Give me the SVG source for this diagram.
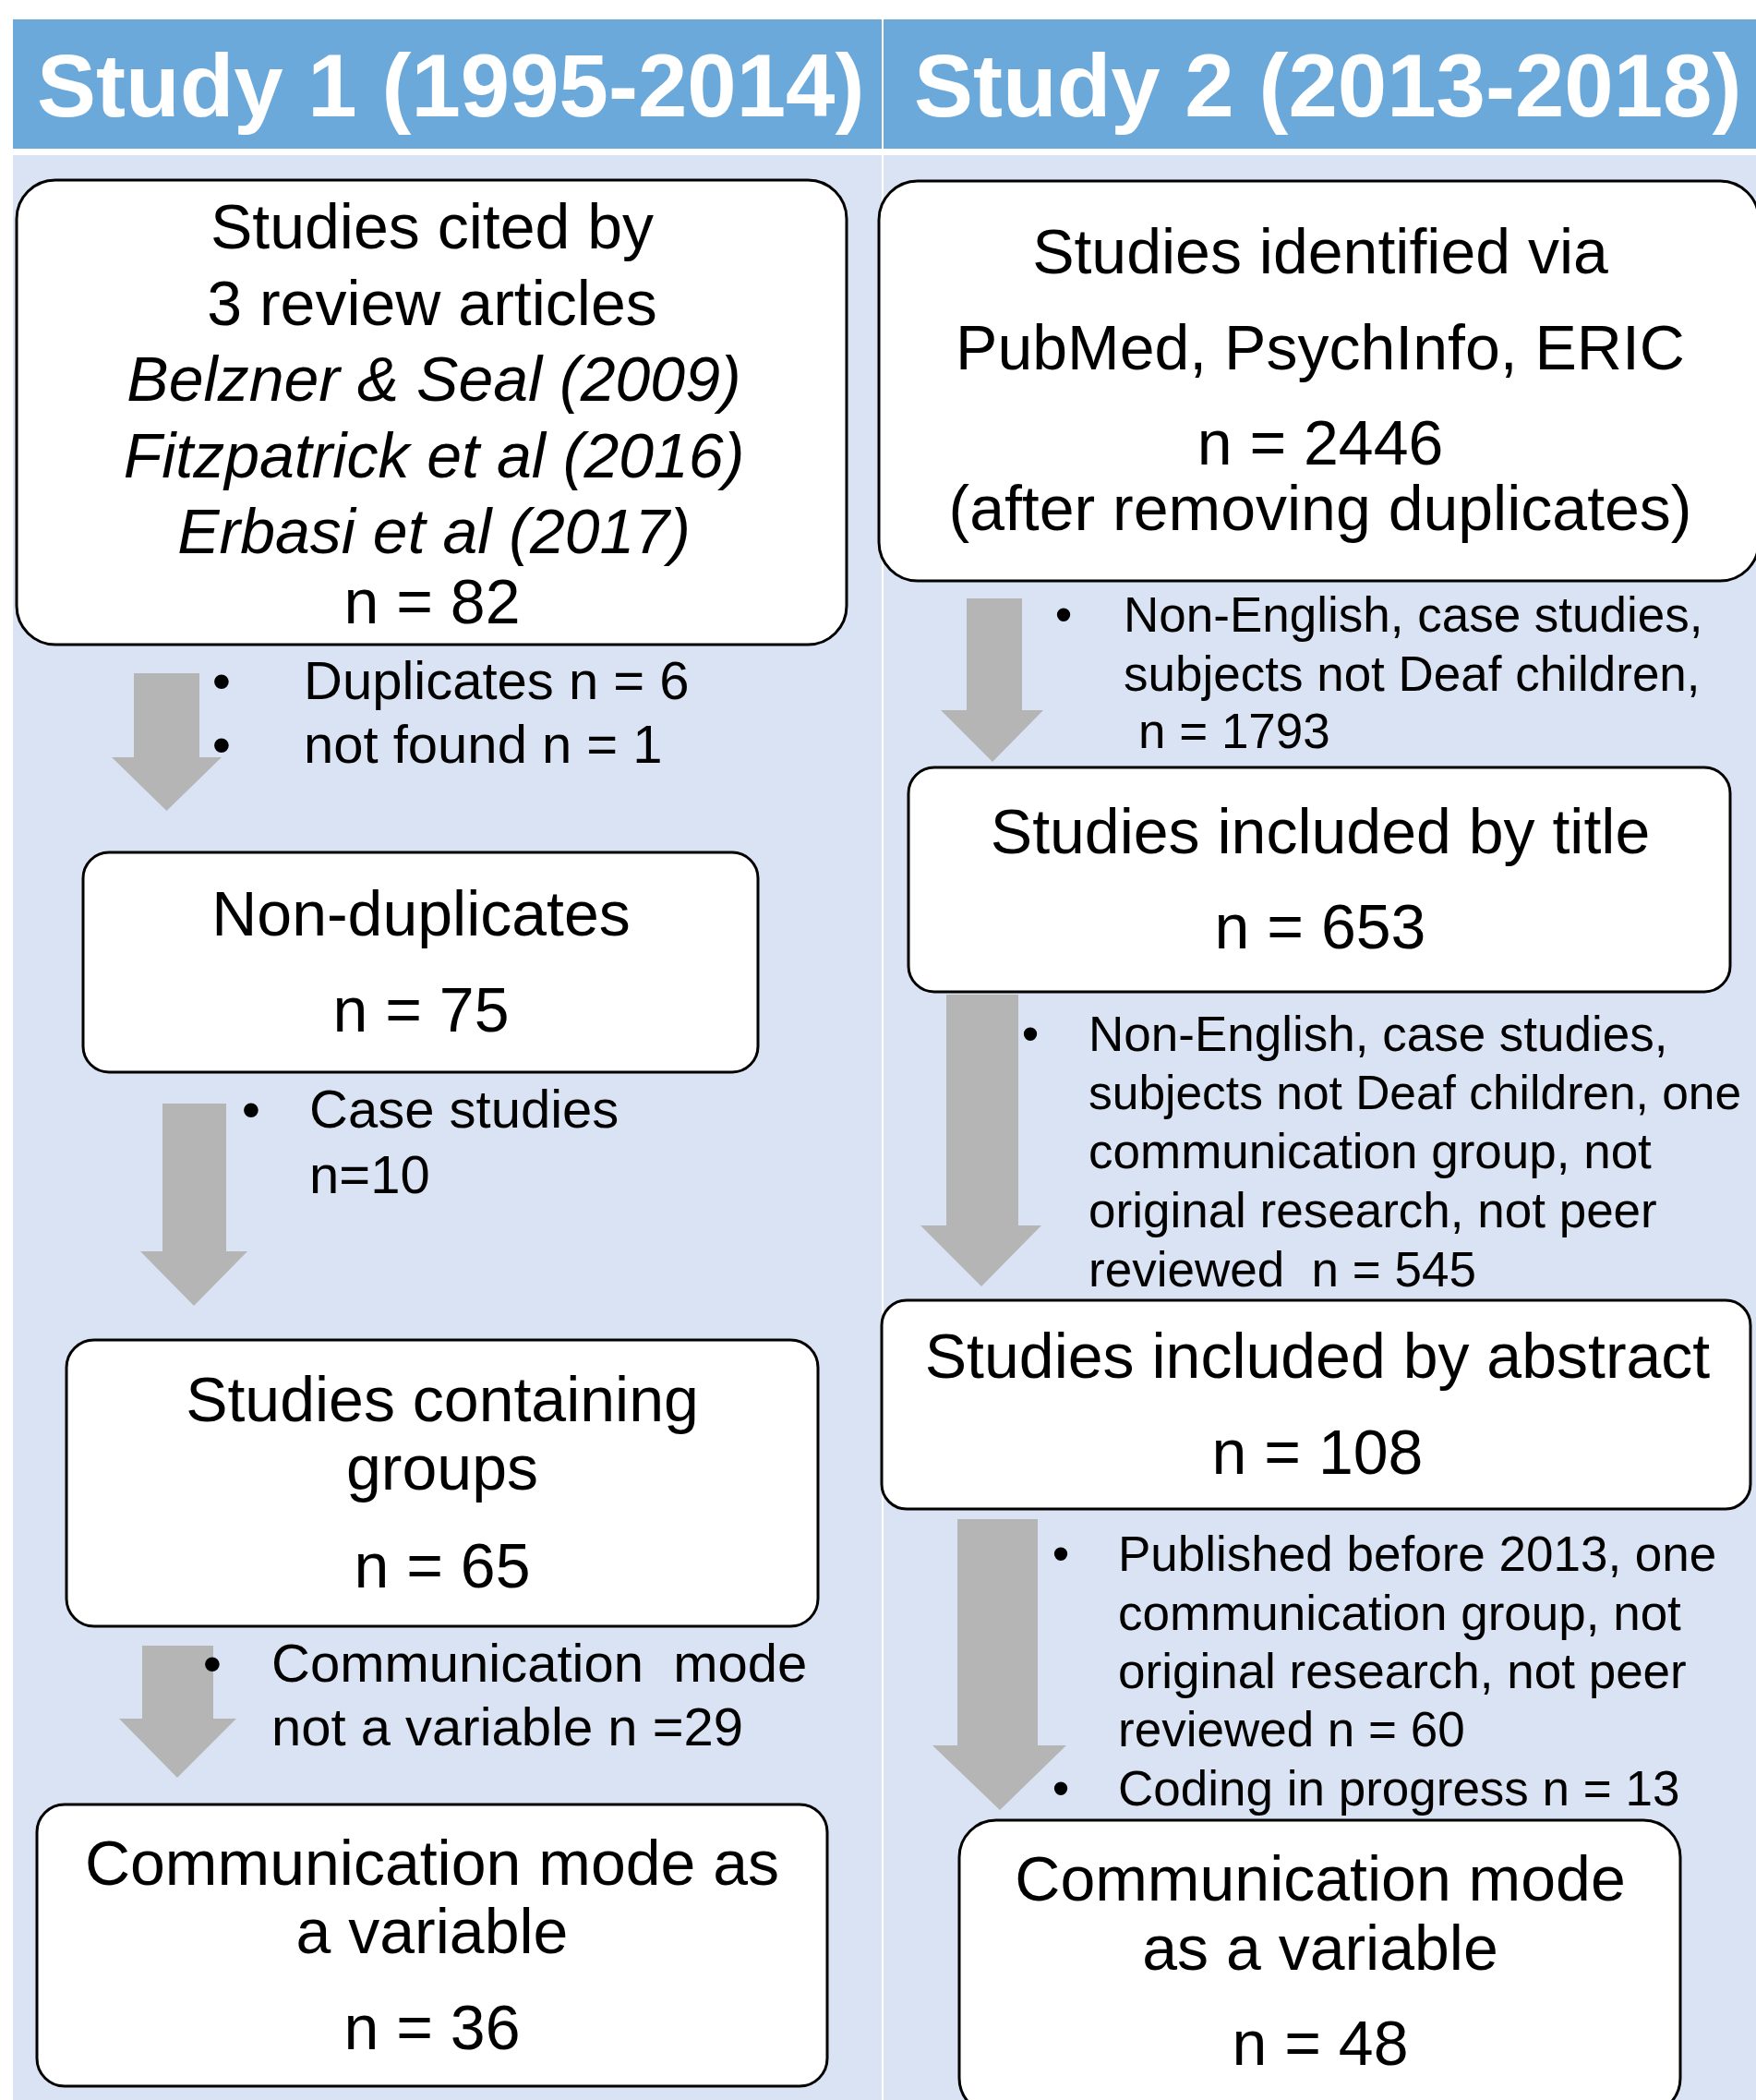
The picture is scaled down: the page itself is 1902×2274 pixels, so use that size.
<svg xmlns="http://www.w3.org/2000/svg" width="1902" height="2274" viewBox="0 0 1902 2274">
<style>
.hdr{fill:#6CA9DB}
.body{fill:#DAE3F3}
.box{fill:#FFFFFF;stroke:#000000;stroke-width:3}
.arrow{fill:#B5B5B5}
text{font-family:"Liberation Sans",Arial,Helvetica,sans-serif;fill:#000000}
.t{font-size:68px;text-anchor:middle}
.ti{font-size:68px;text-anchor:middle;font-style:italic}
.h{font-size:96px;font-weight:bold;fill:#FFFFFF}
.bl{font-size:58px}
.br{font-size:53px}
.dot{text-anchor:middle}
</style>
<rect x="0" y="0" width="1902" height="2274" fill="#FFFFFF"/>
<g id="header">
<rect class="hdr" x="14" y="21" width="1888" height="140"/>
<rect class="body" x="14" y="168" width="1888" height="2106"/>
<rect x="955" y="21" width="2" height="2253" fill="#FFFFFF"/>
<text class="h" x="40" y="126">Study 1 (1995-2014)</text>
<text class="h" x="990" y="126">Study 2 (2013-2018)</text>
</g>
<g id="connectors">
<polygon class="arrow" points="145,729 216,729 216,820 240,820 180.5,878 121,820 145,820"/>
<polygon class="arrow" points="176,1195 245,1195 245,1355 268,1355 210,1414 152,1355 176,1355"/>
<polygon class="arrow" points="154,1782 231,1782 231,1861 256,1861 192,1925 129,1861 154,1861"/>
<polygon class="arrow" points="1047,648 1107,648 1107,769 1130,769 1075,825 1019,769 1047,769"/>
<polygon class="arrow" points="1025,1077 1103,1077 1103,1327 1128,1327 1063,1393 997,1327 1025,1327"/>
<polygon class="arrow" points="1037,1645 1124,1645 1124,1890 1155,1890 1083,1960 1010,1890 1037,1890"/>
<g id="label-l1" class="bl">
<text class="dot" x="240" y="757">•</text>
<text x="329" y="757">Duplicates n = 6</text>
<text class="dot" x="240" y="826">•</text>
<text x="329" y="826">not found n = 1</text>
</g>
<g id="label-l2" class="bl">
<text class="dot" x="272" y="1221">•</text>
<text x="335" y="1221">Case studies</text>
<text x="335" y="1292">n=10</text>
</g>
<g id="label-l3" class="bl">
<text class="dot" x="230" y="1821">•</text>
<text x="294" y="1821" style="white-space:pre">Communication  mode</text>
<text x="294" y="1890">not a variable n =29</text>
</g>
<g id="label-r1" class="br">
<text class="dot" x="1152" y="684">•</text>
<text x="1217" y="684">Non-English, case studies,</text>
<text x="1217" y="748">subjects not Deaf children,</text>
<text x="1233" y="810">n = 1793</text>
</g>
<g id="label-r2" class="br">
<text class="dot" x="1116" y="1138">•</text>
<text x="1179" y="1138">Non-English, case studies,</text>
<text x="1179" y="1201" style="font-size:51.5px">subjects not Deaf children, one</text>
<text x="1179" y="1265">communication group, not</text>
<text x="1179" y="1329">original research, not peer</text>
<text x="1179" y="1393" style="white-space:pre">reviewed  n = 545</text>
</g>
<g id="label-r3" class="br">
<text class="dot" x="1149" y="1701">•</text>
<text x="1211" y="1701">Published before 2013, one</text>
<text x="1211" y="1765">communication group, not</text>
<text x="1211" y="1828">original research, not peer</text>
<text x="1211" y="1891">reviewed n = 60</text>
<text class="dot" x="1149" y="1955">•</text>
<text x="1211" y="1955">Coding in progress n = 13</text>
</g>
</g>
<g id="node-l1">
<rect class="box" x="18" y="195" width="899" height="503" rx="42" ry="42"/>
<text class="t" x="468" y="269">Studies cited by</text>
<text class="t" x="468" y="352">3 review articles</text>
<text class="ti" x="470" y="434">Belzner &amp; Seal (2009)</text>
<text class="ti" x="470" y="517">Fitzpatrick et al (2016)</text>
<text class="ti" x="470" y="599">Erbasi et al (2017)</text>
<text class="t" x="468" y="675">n = 82</text>
</g>
<g id="node-l2">
<rect class="box" x="90" y="923" width="731" height="238" rx="28" ry="28"/>
<text class="t" x="456" y="1013">Non-duplicates</text>
<text class="t" x="456" y="1117">n = 75</text>
</g>
<g id="node-l3">
<rect class="box" x="72" y="1451" width="814" height="310" rx="30" ry="30"/>
<text class="t" x="479" y="1539">Studies containing</text>
<text class="t" x="479" y="1613">groups</text>
<text class="t" x="479" y="1719">n = 65</text>
</g>
<g id="node-l4">
<rect class="box" x="40" y="1954" width="856" height="305" rx="30" ry="30"/>
<text class="t" x="468" y="2041">Communication mode as</text>
<text class="t" x="468" y="2115">a variable</text>
<text class="t" x="468" y="2219">n = 36</text>
</g>
<g id="node-r1">
<rect class="box" x="952" y="196" width="953" height="433" rx="42" ry="42"/>
<text class="t" x="1430" y="296">Studies identified via</text>
<text class="t" x="1430" y="400">PubMed, PsychInfo, ERIC</text>
<text class="t" x="1430" y="503">n = 2446</text>
<text class="t" x="1430" y="574">(after removing duplicates)</text>
</g>
<g id="node-r2">
<rect class="box" x="984" y="831" width="890" height="243" rx="28" ry="28"/>
<text class="t" x="1430" y="924">Studies included by title</text>
<text class="t" x="1430" y="1027">n = 653</text>
</g>
<g id="node-r3">
<rect class="box" x="955" y="1408" width="941" height="226" rx="27" ry="27"/>
<text class="t" x="1427" y="1492">Studies included by abstract</text>
<text class="t" x="1427" y="1596">n = 108</text>
</g>
<g id="node-r4">
<rect class="box" x="1039" y="1971" width="781" height="319" rx="40" ry="40"/>
<text class="t" x="1430" y="2058">Communication mode</text>
<text class="t" x="1430" y="2133">as a variable</text>
<text class="t" x="1430" y="2236">n = 48</text>
</g>
</svg>
